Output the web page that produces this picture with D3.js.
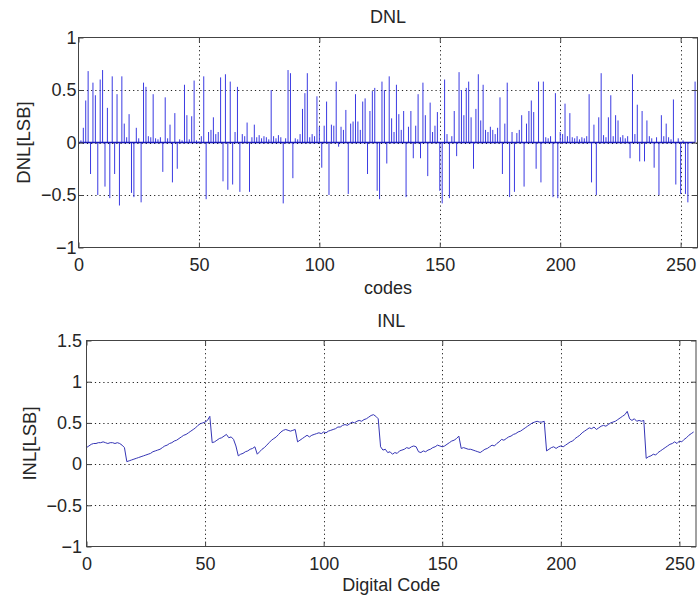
<!DOCTYPE html>
<html>
<head>
<meta charset="utf-8">
<script src="https://cdn.jsdelivr.net/npm/d3@7"></script>
<style>
  html, body { margin: 0; padding: 0; background: #fff; }
  svg { display: block; font-family: "Liberation Sans", Arial, sans-serif; }
  .tick text { font-size: 18px; fill: #262626; }
  .tick line { stroke: #444; }
  .domain { display: none; }
  .grid line { stroke: #222; stroke-dasharray: 1.2,3; }
</style>
</head>
<body>
<div id="chart"></div>
<script>
// --- data ---
const xTicks = [0, 50, 100, 150, 200, 250];
const dnlYTicks = [-1, -0.5, 0, 0.5, 1];
const inlYTicks = [-1, -0.5, 0, 0.5, 1, 1.5];

// DNL per code (0..256)
const dnl = [
  0.00, 0.02, 0.14, 0.40, 0.68, -0.30, 0.57, 0.45, -0.50, 0.60,
  0.69, -0.42, 0.33, -0.53, 0.63, -0.30, 0.46, -0.60, 0.63, 0.18,
  0.05, 0.27, -0.48, -0.52, 0.14, 0.04, -0.57, 0.57, 0.53, 0.06,
  0.05, 0.46, 0.04, 0.03, 0.05, -0.28, 0.43, 0.04, 0.17, -0.38,
  0.28, -0.25, 0.03, 0.02, 0.55, 0.26, 0.03, 0.25, 0.59, 0.02,
  0.01, 0.06, 0.63, -0.54, 0.10, 0.12, 0.24, 0.08, 0.10, 0.62,
  -0.37, 0.65, -0.45, 0.58, -0.40, 0.10, 0.53, -0.47, 0.08, 0.06,
  0.19, -0.47, 0.05, 0.17, 0.05, 0.07, 0.04, 0.06, 0.05, 0.03,
  0.50, 0.06, 0.04, 0.07, 0.05, -0.58, 0.04, 0.69, 0.66, -0.34,
  0.04, 0.03, 0.08, 0.32, 0.47, 0.66, 0.05, 0.08, 0.06, 0.44,
  0.15, -0.24, 0.16, 0.39, -0.50, 0.17, 0.16, 0.58, -0.04, 0.15,
  0.12, 0.31, -0.49, 0.18, 0.20, 0.46, 0.20, 0.12, 0.39, 0.42,
  -0.30, 0.30, 0.49, 0.52, -0.46, -0.54, 0.58, 0.50, -0.20, 0.63,
  0.23, 0.10, 0.55, 0.27, 0.12, 0.30, -0.52, 0.15, 0.30, -0.15,
  0.16, 0.46, -0.15, 0.57, 0.26, -0.32, 0.38, 0.10, 0.16, 0.29,
  -0.46, -0.58, 0.60, 0.08, -0.53, 0.06, 0.30, -0.13, 0.67, 0.50,
  0.26, 0.52, 0.58, 0.24, -0.25, 0.32, 0.65, 0.21, 0.55, 0.12,
  0.10, 0.15, 0.12, 0.08, 0.14, 0.43, -0.30, 0.18, 0.57, -0.52,
  0.10, -0.47, 0.09, 0.12, 0.26, -0.42, 0.18, 0.30, 0.40, 0.29,
  -0.25, 0.58, -0.38, 0.58, 0.05, 0.04, 0.06, -0.52, 0.47, -0.53,
  0.10, 0.08, 0.37, 0.06, 0.28, 0.05, 0.04, 0.06, 0.03, 0.05,
  0.04, 0.06, 0.46, -0.38, 0.17, -0.50, 0.24, 0.66, 0.07, 0.05,
  0.24, 0.45, 0.06, 0.26, 0.21, 0.05, 0.07, 0.04, 0.06, -0.15,
  0.65, 0.08, 0.36, -0.18, 0.30, -0.18, 0.21, 0.06, 0.04, -0.24,
  0.05, -0.50, 0.26, 0.06, 0.18, 0.05, 0.03, 0.41, -0.40, 0.04,
  -0.49, 0.02, -0.49, -0.57, 0.00, 0.00, 0.58
];

// INL per code (0..256)
const inl = [
  0.20, 0.22, 0.24, 0.25, 0.25, 0.26, 0.26, 0.27, 0.26, 0.25,
  0.26, 0.26, 0.25, 0.26, 0.25, 0.23, 0.20, 0.03, 0.04, 0.05,
  0.06, 0.07, 0.08, 0.09, 0.10, 0.11, 0.12, 0.13, 0.15, 0.16,
  0.17, 0.18, 0.20, 0.22, 0.23, 0.25, 0.26, 0.28, 0.29, 0.31,
  0.33, 0.35, 0.36, 0.38, 0.40, 0.42, 0.44, 0.47, 0.49, 0.50,
  0.51, 0.53, 0.58, 0.26, 0.27, 0.29, 0.31, 0.32, 0.34, 0.36,
  0.32, 0.33, 0.30, 0.22, 0.10, 0.12, 0.13, 0.15, 0.16, 0.18,
  0.19, 0.21, 0.12, 0.15, 0.18, 0.20, 0.23, 0.26, 0.29, 0.31,
  0.33, 0.36, 0.39, 0.41, 0.42, 0.41, 0.40, 0.41, 0.42, 0.27,
  0.29, 0.31, 0.33, 0.35, 0.33, 0.35, 0.36, 0.37, 0.38, 0.37,
  0.39, 0.38, 0.40, 0.41, 0.42, 0.43, 0.45, 0.45, 0.47, 0.48,
  0.47, 0.49, 0.51, 0.50, 0.52, 0.53, 0.52, 0.54, 0.55, 0.57,
  0.59, 0.60, 0.58, 0.55, 0.21, 0.17, 0.18, 0.14, 0.15, 0.12,
  0.14, 0.13, 0.16, 0.17, 0.18, 0.20, 0.19, 0.21, 0.22, 0.21,
  0.15, 0.14, 0.16, 0.15, 0.17, 0.18, 0.20, 0.21, 0.23, 0.22,
  0.21, 0.22, 0.24, 0.26, 0.28, 0.29, 0.31, 0.34, 0.19, 0.20,
  0.19, 0.18, 0.18, 0.17, 0.16, 0.15, 0.14, 0.16, 0.18, 0.19,
  0.21, 0.23, 0.22, 0.25, 0.27, 0.30, 0.29, 0.31, 0.33, 0.34,
  0.36, 0.37, 0.39, 0.40, 0.42, 0.44, 0.46, 0.48, 0.50, 0.51,
  0.52, 0.51, 0.51, 0.52, 0.16, 0.18, 0.20, 0.21, 0.19, 0.21,
  0.22, 0.21, 0.23, 0.25, 0.27, 0.28, 0.31, 0.33, 0.35, 0.38,
  0.40, 0.42, 0.44, 0.43, 0.45, 0.42, 0.44, 0.46, 0.47, 0.46,
  0.48, 0.50, 0.51, 0.52, 0.54, 0.56, 0.58, 0.60, 0.64, 0.55,
  0.53, 0.55, 0.52, 0.53, 0.52, 0.53, 0.07, 0.09, 0.10, 0.12,
  0.11, 0.14, 0.16, 0.18, 0.20, 0.22, 0.24, 0.25, 0.27, 0.25,
  0.28, 0.27, 0.30, 0.32, 0.35, 0.37, 0.39
];

const W = 699, H = 596;
const fmt = (d) => (d < 0 ? "\u2212" + Math.abs(d) : String(d));

const svg = d3.select("#chart").append("svg")
  .attr("width", W).attr("height", H);

function drawPanel(p) {
  const x = d3.scaleLinear().domain([0, 257]).range([p.left, p.right]);
  const y = d3.scaleLinear().domain(p.yDomain).range([p.bottom, p.top]);
  const g = svg.append("g");

  // dotted grid (skip the ones on the frame)
  const grid = g.append("g").attr("class", "grid");
  grid.selectAll(".gx").data(xTicks.filter((d) => d > 0))
    .join("line")
    .attr("x1", (d) => Math.round(x(d)) + 0.5).attr("x2", (d) => Math.round(x(d)) + 0.5)
    .attr("y1", p.top).attr("y2", p.bottom);
  grid.selectAll(".gy").data(p.yTicks.filter((d) => d > p.yDomain[0] && d < p.yDomain[1]))
    .join("line")
    .attr("y1", (d) => Math.round(y(d)) + 0.5).attr("y2", (d) => Math.round(y(d)) + 0.5)
    .attr("x1", p.left).attr("x2", p.right);

  if (p.stems) {
    // one vertical stem per code from 0 to its value
    g.append("g").selectAll("line").data(p.data)
      .join("line")
      .attr("x1", (d, i) => x(i)).attr("x2", (d, i) => x(i))
      .attr("y1", y(0)).attr("y2", (d) => y(d))
      .attr("stroke", p.color)
      .attr("stroke-width", p.lineWidth);
    // baseline at zero
    g.append("line")
      .attr("x1", x(0)).attr("x2", x(256))
      .attr("y1", y(0)).attr("y2", y(0))
      .attr("stroke", "#1818b8").attr("stroke-width", 1.6);
  } else {
    const line = d3.line().x((d, i) => x(i)).y((d) => y(d));
    g.append("path").datum(p.data)
      .attr("fill", "none")
      .attr("stroke", p.color)
      .attr("stroke-width", p.lineWidth)
      .attr("stroke-linejoin", "round")
      .attr("d", line);
  }

  // axes with inward ticks
  g.append("g").attr("transform", `translate(0,${p.bottom})`)
    .call(d3.axisBottom(x).tickValues(xTicks).tickSize(-5).tickPadding(10.5).tickFormat(fmt));
  g.append("g").attr("transform", `translate(0,${p.top})`)
    .call(d3.axisTop(x).tickValues(xTicks).tickSize(-5).tickFormat(""));
  g.append("g").attr("transform", `translate(${p.left},0)`)
    .call(d3.axisLeft(y).tickValues(p.yTicks).tickSize(-5).tickPadding(p.yPad).tickFormat(fmt));
  g.append("g").attr("transform", `translate(${p.right},0)`)
    .call(d3.axisRight(y).tickValues(p.yTicks).tickSize(-5).tickFormat(""));

  // frame
  g.append("rect")
    .attr("x", p.left).attr("y", p.top)
    .attr("width", p.right - p.left).attr("height", p.bottom - p.top)
    .attr("fill", "none").attr("stroke", "#444").attr("stroke-width", 1);

  const cx = (p.left + p.right) / 2;
  g.append("text").attr("x", cx).attr("y", p.titleY)
    .attr("text-anchor", "middle").attr("font-size", 18).attr("fill", "#262626")
    .text(p.title);
  g.append("text").attr("x", cx).attr("y", p.xLabelY)
    .attr("text-anchor", "middle").attr("font-size", 18).attr("fill", "#262626")
    .text(p.xLabel);
  g.append("text")
    .attr("transform", `translate(${p.yLabelX},${(p.top + p.bottom) / 2}) rotate(-90)`)
    .attr("text-anchor", "middle").attr("font-size", 18.5).attr("fill", "#262626")
    .text(p.yLabel);
}

drawPanel({
  left: 78.5, right: 697.5, top: 37.5, bottom: 247.5,
  yDomain: [-1, 1], yTicks: dnlYTicks, yPad: 2,
  data: dnl, stems: true, color: "#3a3ae2", lineWidth: 1,
  title: "DNL", titleY: 23, xLabel: "codes", xLabelY: 294,
  yLabel: "DNL[LSB]", yLabelX: 30
});

drawPanel({
  left: 86.5, right: 696, top: 340.5, bottom: 546.5,
  yDomain: [-1, 1.5], yTicks: inlYTicks, yPad: 4.5,
  data: inl, stems: false, color: "#3535b5", lineWidth: 1,
  title: "INL", titleY: 327, xLabel: "Digital Code", xLabelY: 591,
  yLabel: "INL[LSB]", yLabelX: 36
});
</script>
</body>
</html>
